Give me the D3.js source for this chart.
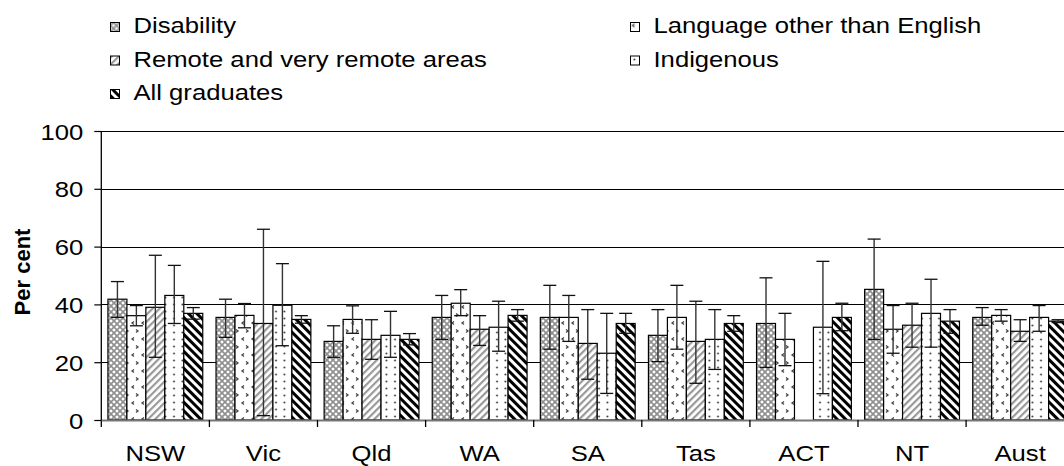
<!DOCTYPE html>
<html>
<head>
<meta charset="utf-8">
<script src="https://cdn.jsdelivr.net/npm/d3@7/dist/d3.min.js"></script>
<style>
  html, body { margin: 0; padding: 0; background: #fff; }
  svg { display: block; }
  text { font-family: "Liberation Sans", Arial, sans-serif; fill: #000; }
</style>
</head>
<body>
<svg id="chart" width="1064" height="466"></svg>
<script>
// ---------- data ----------
const categories = ["NSW", "Vic", "Qld", "WA", "SA", "Tas", "ACT", "NT", "Aust"];
const seriesNames = ["Disability", "Language other than English", "Remote and very remote areas", "Indigenous", "All graduates"];

const disability    = [41.8, 35.5, 27.2, 35.5, 35.5, 29.3, 33.4, 45.2, 35.5];
const disabilityLo  = [35.5, 28.6, 21.7, 27.9, 24.5, 20.2, 18.2, 27.9, 32.8];
const disabilityHi  = [47.9, 41.8, 32.6, 43.1, 46.6, 38.2, 49.2, 62.6, 38.9];

const lote          = [36.1, 36.2, 34.8, 40.4, 35.5, 35.5, 27.9, 31.4, 36.2];
const loteLo        = [32.6, 31.9, 30.0, 36.1, 27.2, 24.5, 18.8, 23.1, 34.2];
const loteHi        = [39.6, 40.3, 39.5, 45.1, 43.1, 46.6, 36.9, 39.6, 38.2];

const remote        = [39.0, 33.4, 27.9, 31.4, 26.5, 27.2, null, 32.8, 30.7];
const remoteLo      = [21.7, 1.5, 21.0, 25.8, 14.1, 12.7, null, 25.2, 27.2];
const remoteHi      = [57.0, 66.0, 34.7, 36.1, 38.2, 41.1, null, 40.4, 34.7];

const indigenous    = [43.1, 39.7, 29.3, 32.1, 23.1, 27.9, 32.1, 36.9, 35.5];
const indigenousLo  = [33.4, 25.7, 21.7, 23.8, 9.2, 17.5, 9.1, 25.2, 30.7];
const indigenousHi  = [53.5, 54.1, 37.6, 41.1, 36.9, 38.2, 54.9, 48.7, 39.6];

const allGrads      = [36.9, 34.8, 27.9, 36.2, 33.4, 33.4, 35.5, 34.2, 34.2];
const allGradsLo    = [34.9, 33.5, 26.0, 34.2, 30.0, 30.7, 30.9, 30.0, 33.7];
const allGradsHi    = [38.9, 36.1, 29.9, 38.2, 36.9, 36.1, 40.4, 38.2, 34.7];

const yTicks = [0, 20, 40, 60, 80, 100];
const yTitle = "Per cent";

// ---------- build series table ----------
const seriesValues = [
  [disability, disabilityLo, disabilityHi],
  [lote, loteLo, loteHi],
  [remote, remoteLo, remoteHi],
  [indigenous, indigenousLo, indigenousHi],
  [allGrads, allGradsLo, allGradsHi]
];
const patternIds = ["pDis", "pLote", "pRem", "pInd", "pAll"];

const svg = d3.select("#chart");
const SX = 1.14;      // horizontal text stretch of the original picture
const FS = "22.5px";

// ---------- patterns ----------
const defs = svg.append("defs");
{
  const p = defs.append("pattern").attr("id", "pDis").attr("patternUnits", "userSpaceOnUse")
    .attr("width", 6).attr("height", 6);
  p.append("rect").attr("width", 6).attr("height", 6).attr("fill", "#8f8f8f");
  [[0,0],[6,0],[0,6],[6,6],[3,3]].forEach(([cx, cy]) =>
    p.append("rect").attr("x", cx - 1.3).attr("y", cy - 1.3).attr("width", 2.6).attr("height", 2.6)
      .attr("fill", "#fff").attr("transform", `rotate(45 ${cx} ${cy})`));
}
{
  const p = defs.append("pattern").attr("id", "pLote").attr("patternUnits", "userSpaceOnUse")
    .attr("width", 10).attr("height", 16);
  p.append("rect").attr("width", 10).attr("height", 16).attr("fill", "#fff");
  p.append("path").attr("d", "M4,1.5 L2,3 L4,4.5").attr("fill", "none").attr("stroke", "#444").attr("stroke-width", 1.3);
  p.append("path").attr("d", "M6,9.5 L8,11 L6,12.5").attr("fill", "none").attr("stroke", "#444").attr("stroke-width", 1.3);
}
{
  const p = defs.append("pattern").attr("id", "pRem").attr("patternUnits", "userSpaceOnUse")
    .attr("width", 5).attr("height", 5).attr("patternTransform", "rotate(45)");
  p.append("rect").attr("width", 5).attr("height", 5).attr("fill", "#fff");
  p.append("rect").attr("x", 0).attr("width", 2.2).attr("height", 5).attr("fill", "#999");
}
{
  const p = defs.append("pattern").attr("id", "pInd").attr("patternUnits", "userSpaceOnUse")
    .attr("width", 8.5).attr("height", 7);
  p.append("rect").attr("width", 8.5).attr("height", 7).attr("fill", "#fff");
  p.append("circle").attr("cx", 4).attr("cy", 3.5).attr("r", 0.95).attr("fill", "#333");
}
{
  const p = defs.append("pattern").attr("id", "pAll").attr("patternUnits", "userSpaceOnUse")
    .attr("width", 6).attr("height", 6).attr("patternTransform", "rotate(-45)");
  p.append("rect").attr("width", 6).attr("height", 6).attr("fill", "#fff");
  p.append("rect").attr("x", 0).attr("width", 3).attr("height", 6).attr("fill", "#000");
}

// ---------- scales ----------
const plotLeft = 101.3, band = 108.1;
const x0 = d3.scaleBand().domain(categories).range([plotLeft, plotLeft + band * categories.length]);
const barW = band / (5 + 0.7);
const x1 = d3.scaleBand().domain(seriesNames).range([barW * 0.35, barW * 0.35 + barW * 5]);
const y = d3.scaleLinear().domain([0, 100]).range([420, 131]);

function stretched(sel, x, yy, anchor) {
  return sel.attr("transform", `translate(${x},${yy}) scale(${SX},1)`).attr("text-anchor", anchor || "start");
}

// ---------- gridlines ----------
svg.append("g").selectAll("line").data(yTicks.filter(d => d > 0)).join("line")
  .attr("x1", plotLeft).attr("x2", 1064)
  .attr("y1", d => Math.round(y(d)) + 0.5).attr("y2", d => Math.round(y(d)) + 0.5)
  .attr("stroke", "#000").attr("stroke-width", 1);

// ---------- bars ----------
seriesNames.forEach((s, si) => {
  const [vals] = seriesValues[si];
  const rows = categories.map((c, ci) => ({ c, v: vals[ci] })).filter(d => d.v !== null);
  svg.append("g").selectAll("rect").data(rows).join("rect")
    .attr("x", d => x0(d.c) + x1(s)).attr("width", x1.bandwidth())
    .attr("y", d => y(d.v)).attr("height", d => y(0) - y(d.v))
    .attr("fill", `url(#${patternIds[si]})`)
    .attr("stroke", "#000").attr("stroke-width", 1.2);
});

// ---------- error bars ----------
seriesNames.forEach((s, si) => {
  const [vals, lo, hi] = seriesValues[si];
  categories.forEach((c, ci) => {
    if (vals[ci] === null) return;
    const cx = x0(c) + x1(s) + x1.bandwidth() / 2;
    const g = svg.append("g");
    g.append("line").attr("x1", cx).attr("x2", cx).attr("y1", y(hi[ci])).attr("y2", y(lo[ci]))
      .attr("stroke", "#333").attr("stroke-width", 1.4);
    [hi[ci], lo[ci]].forEach(v =>
      g.append("line").attr("x1", cx - 6.5).attr("x2", cx + 6.5).attr("y1", y(v)).attr("y2", y(v))
        .attr("stroke", "#111").attr("stroke-width", 1.3));
  });
});

// ---------- axes ----------
const yAxis = svg.append("g").attr("transform", `translate(${plotLeft},0)`)
  .call(d3.axisLeft(y).tickValues(yTicks).tickSize(7).tickFormat(d3.format("d")));
yAxis.select(".domain").remove();
yAxis.append("line").attr("x1", 0).attr("x2", 0).attr("y1", y(100)).attr("y2", 427)
  .attr("stroke", "#000").attr("stroke-width", 1.3);
yAxis.selectAll(".tick line").attr("stroke", "#000").attr("stroke-width", 1.2);
yAxis.selectAll(".tick text").remove();
yAxis.selectAll(".tick").append("text")
  .each(function () { stretched(d3.select(this), -18, 8, "end"); })
  .style("font-size", FS).text(d => d);

const xAxis = svg.append("g").attr("transform", `translate(0,${y(0)})`)
  .call(d3.axisBottom(x0).tickSize(0).tickFormat(""));
xAxis.select(".domain").attr("stroke", "#777").attr("stroke-width", 2);
svg.append("g").selectAll("line").data(categories).join("line")
  .attr("x1", d => x0(d) + band).attr("x2", d => x0(d) + band)
  .attr("y1", y(0)).attr("y2", 427).attr("stroke", "#000").attr("stroke-width", 1.3);
svg.append("g").selectAll("text").data(categories).join("text")
  .each(function (d) { stretched(d3.select(this), x0(d) + band / 2, 460.5, "middle"); })
  .style("font-size", FS).text(d => d);

svg.append("text").attr("transform", "translate(30,272) rotate(-90)")
  .attr("text-anchor", "middle").style("font-size", "22px").style("font-weight", "bold")
  .text(yTitle);

// ---------- legend ----------
const legendPos = [
  [110.5, 22.5], [630.5, 22.5],
  [110.5, 56], [630.5, 56],
  [110.5, 89.5]
];
const lg = svg.append("g").selectAll("g").data(seriesNames).join("g")
  .attr("transform", (d, i) => `translate(${legendPos[i][0]},${legendPos[i][1]})`);
lg.append("rect").attr("width", 9).attr("height", 9)
  .attr("fill", (d, i) => `url(#${patternIds[i]})`).attr("stroke", "#000").attr("stroke-width", 1);
lg.append("text")
  .each(function () { stretched(d3.select(this), 23, 10.8, "start"); })
  .style("font-size", FS).text(d => d);
</script>
</body>
</html>
